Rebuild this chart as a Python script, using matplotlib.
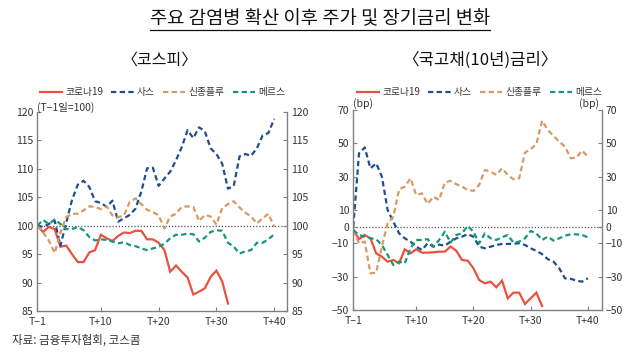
import numpy as np
import matplotlib
matplotlib.use("Agg")
import matplotlib.pyplot as plt
from matplotlib.lines import Line2D

plt.rcParams['font.family'] = ['Noto Sans CJK KR', 'DejaVu Sans']
plt.rcParams['axes.unicode_minus'] = True

# -----------------------
# DATA (index 0 = T-1, index 41 = T+40)
# -----------------------
SERIES_NAMES = ["코로나19", "사스", "신종플루", "메르스"]
COLORS = ["#E8523F", "#1F4E8F", "#D69A63", "#17977A"]

XTICK_POS = [0, 11, 21, 31, 41]
XTICK_LABELS = ["T−1", "T+10", "T+20", "T+30", "T+40"]

# 코스피 (T-1일=100)
kospi_covid = [100, 98.9, 99.8, 99.4, 96.3, 96.5, 95.0, 93.6, 93.6, 95.3, 95.7, 98.4, 97.8, 97.3,
               98.2, 98.8, 98.7, 99.1, 99.1, 97.6, 97.6, 97.0, 95.7, 91.9, 93.0, 91.9, 90.9, 87.9,
               88.4, 89.0, 91.0, 92.1, 90.2, 86.3]
kospi_sars = [100, 99.8, 100.3, 100.9, 96.5, 100.5, 104.5, 107.2, 107.9, 106.8, 104.3, 104.0, 103.3,
              104.4, 100.7, 101.3, 101.9, 103.0, 106.0, 110.1, 110.2, 107.0, 108.3, 109.5, 111.5,
              113.8, 116.8, 115.4, 117.3, 116.6, 113.6, 112.6, 110.9, 106.5, 107.0, 112.2, 112.6,
              112.3, 113.6, 115.9, 116.3, 118.8]
kospi_h1n1 = [100, 98.8, 97.4, 95.2, 98.8, 101.5, 102.1, 102.1, 102.7, 103.4, 103.3, 102.9, 103.4,
              101.8, 101.5, 101.8, 104.2, 104.8, 103.8, 102.8, 102.4, 101.8, 99.5, 101.6, 102.1,
              103.3, 103.4, 103.3, 100.8, 101.9, 101.6, 100.2, 103.1, 103.8, 104.3, 103.2, 102.3,
              101.6, 100.4, 101.3, 102.1, 99.8]
kospi_mers = [100, 101.0, 100.3, 101.1, 100.3, 99.4, 99.4, 99.8, 99.2, 98.0, 97.4, 97.6, 97.5, 97.2,
              96.9, 97.1, 96.6, 96.4, 96.0, 95.7, 96.0, 96.3, 96.8, 97.8, 98.4, 98.4, 98.6, 98.5,
              97.2, 97.9, 98.9, 99.2, 99.1, 97.0, 96.3, 95.1, 95.5, 95.7, 97.0, 97.0, 97.6, 98.5]

# 국고채(10년) 금리 변화 (bp)
bond_covid = [-2, -7.5, -5, -7, -16, -18, -21, -20, -22, -13.6, -16, -13.6, -15.6, -15.6, -15.4, -15,
              -15, -12, -14.4, -20, -20.4, -25, -32, -34, -33, -36.4, -32.4, -43, -39.6, -39.6,
              -46.4, -43, -39.6, -47.6]
bond_sars = [0, 44, 47.5, 35, 38, 30, 10, 3, -4, -7, -9, -12, -14, -10, -12, -10.8, -11.4, -9, -7,
             -6, -4.5, -6, -12, -13, -12, -11, -10.4, -10.4, -10.2, -10, -11, -13, -14.5, -16.5,
             -19.5, -21, -25, -31, -31.3, -32.4, -33, -31]
bond_h1n1 = [-2, -10, -9, -28, -27.6, -12, 2, 6, 22.4, 24, 29, 19, 20, 13.6, 18, 16, 26.4, 27.5,
             25.5, 24, 22, 21.5, 25, 34, 33, 31, 35, 31, 28.4, 29, 44.4, 46.5, 49.5, 63.6, 58,
             54.4, 51, 48, 41, 41.5, 45.6, 42]
bond_mers = [-2, -5, -6, -7, -7.5, -11, -17, -23, -21, -22, -13, -8, -8, -7.5, -12, -8, -3, -9.5,
             -5, -4, 0.4, -3, -10, -4, -7, -8, -6.4, -5, -9.6, -9, -7, -2.6, -4, -8, -6, -8.4,
             -7, -5.4, -4.6, -4.6, -5, -6.4]

kospi_data = [kospi_covid, kospi_sars, kospi_h1n1, kospi_mers]
bond_data = [bond_covid, bond_sars, bond_h1n1, bond_mers]

SPINE = "#808080"
TXT = "#333333"


def draw_panel(ax, data, ylim, yticks, xmax, baseline):
    handles = []
    for k, vals in enumerate(data):
        x = np.arange(len(vals))
        if k == 0:
            h, = ax.plot(x, vals, color=COLORS[k], lw=1.6, solid_joinstyle="miter")
        else:
            h, = ax.plot(x, vals, color=COLORS[k], lw=1.6, ls=(0, (2.4, 1.5)))
        handles.append(h)
    ax.axhline(baseline, color="#555555", ls=(0, (1, 1.5)), lw=0.9, zorder=0)
    ax.set_xlim(0, xmax)
    ax.set_ylim(*ylim)
    ax.set_yticks(yticks)
    ax.set_xticks(XTICK_POS)
    ax.set_xticklabels(XTICK_LABELS)
    ax.spines["top"].set_visible(False)
    for s in ["left", "right", "bottom"]:
        ax.spines[s].set_color(SPINE)
        ax.spines[s].set_linewidth(1.0)
    ax.yaxis.set_ticks_position("both")
    ax.tick_params(axis="both", direction="in", length=3, color=SPINE, labelsize=7.5,
                   labelcolor=TXT, pad=3)
    ax.tick_params(axis="y", labelright=True)
    ax.tick_params(axis="x", pad=4)
    return handles


fig = plt.figure(figsize=(6.4, 3.55), dpi=100)

ax1 = fig.add_axes([0.0583, 0.124, 0.390, 0.5606])
h1 = draw_panel(ax1, kospi_data, (85, 120), [85, 90, 95, 100, 105, 110, 115, 120], 43.2, 100)

ax2 = fig.add_axes([0.552, 0.1268, 0.388, 0.5634])
h2 = draw_panel(ax2, bond_data, (-50, 70), [-50, -30, -10, 0, 10, 30, 50, 70], 43.4, 0)

# legends
for hs, x0 in [(h1, 40 / 640), (h2, 357 / 640)]:
    fig.legend(hs, SERIES_NAMES, loc="center left", bbox_to_anchor=(x0, 1 - 92 / 355),
               ncol=4, frameon=False, fontsize=7, handlelength=2.3, handletextpad=0.3,
               columnspacing=0.85, borderpad=0, borderaxespad=0, labelcolor=TXT)

# unit labels
fig.text(37 / 640, 1 - 107 / 355, "(T−1일=100)", fontsize=7.5, color=TXT, ha="left", va="center")
fig.text(353 / 640, 1 - 104 / 355, "(bp)", fontsize=7.5, color=TXT, ha="left", va="center")
fig.text(599 / 640, 1 - 104 / 355, "(bp)", fontsize=7.5, color=TXT, ha="right", va="center")

# titles
title = fig.text(0.5, 1 - 19 / 355, "주요 감염병 확산 이후 주가 및 장기금리 변화", fontsize=13.5,
                 color="#111111", ha="center", va="center")
fig.text(0.25, 1 - 60 / 355, "〈코스피〉", fontsize=11.5, color="#111111", ha="center", va="center")
fig.text(0.75, 1 - 60 / 355, "〈국고채(10년)금리〉", fontsize=12, color="#111111",
         ha="center", va="center")

# source
fig.text(12 / 640, 1 - 340 / 355, "자료: 금융투자협회, 코스콤", fontsize=8.3, color=TXT,
         ha="left", va="center")

# underline the main title
fig.canvas.draw()
bb = title.get_window_extent().transformed(fig.transFigure.inverted())
fig.add_artist(Line2D([bb.x0, bb.x1], [bb.y0, bb.y0], color="#111111", lw=0.9,
                      transform=fig.transFigure))

fig.savefig("out.png", dpi=100)
